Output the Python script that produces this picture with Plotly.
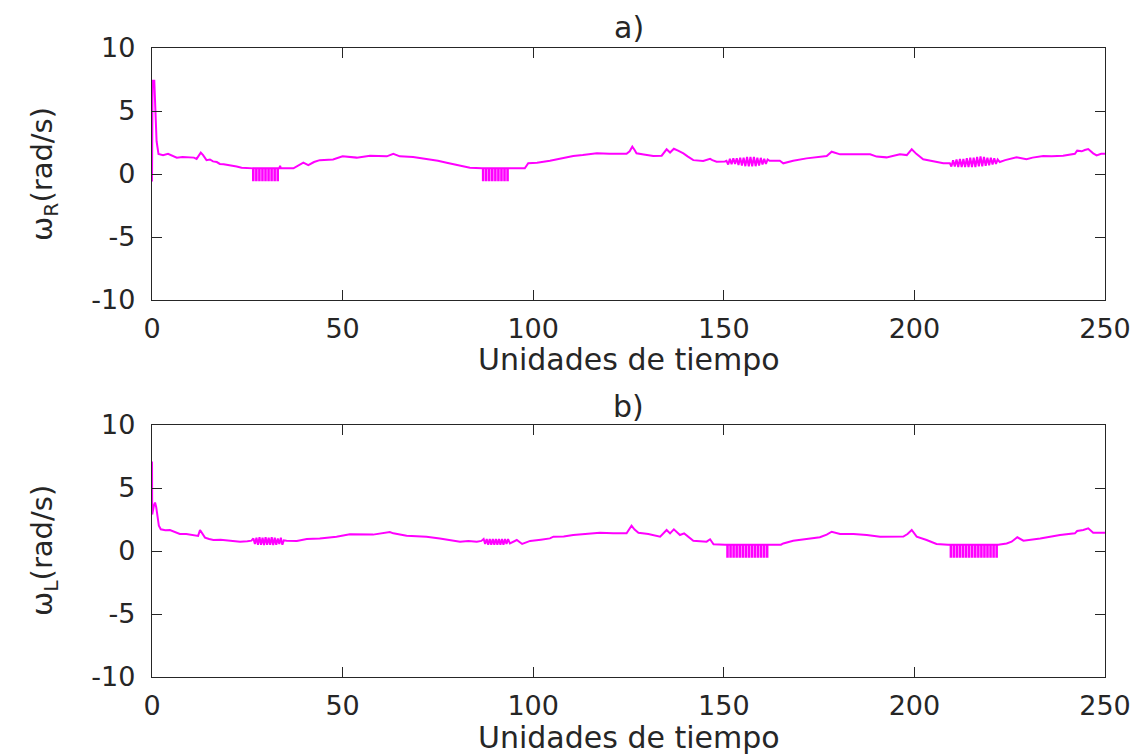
import plotly.graph_objects as go

# ---------------- data ----------------
# omega_R : smooth parts (time, value)
R_pts_a = [(0.0, -0.6), (0.15, 7.4), (0.6, 7.4), (0.9, 4.5), (1.2, 2.6), (1.7, 1.6), (2.9, 1.5),
           (4.2, 1.6), (5.3, 1.45), (6.5, 1.3), (8.0, 1.35), (9.5, 1.3), (11.0, 1.3), (11.7, 1.2),
           (12.4, 1.5), (12.8, 1.7), (13.4, 1.5), (14.3, 1.1), (15.2, 1.15), (16.0, 1.0), (17.0, 0.95),
           (17.8, 0.8), (18.8, 0.78), (19.6, 0.75), (21.0, 0.7), (22.2, 0.6), (23.5, 0.5), (26.1, 0.45)]
R_spikes_1 = [26.5, 27.3, 28.1, 28.9, 29.7, 30.5, 31.3, 32.1, 32.9]
R_pts_b = [(33.4, 0.45), (33.6, 0.65), (33.8, 0.45), (37.1, 0.45), (38.5, 0.7), (39.7, 0.9), (41.0, 0.7),
           (42.5, 0.95), (44.0, 1.1), (47.5, 1.15), (50.0, 1.4), (53.7, 1.3), (57.2, 1.45), (61.6, 1.4),
           (63.3, 1.6), (65.0, 1.4), (68.5, 1.35), (72.0, 1.2), (75.0, 1.05), (77.3, 0.9), (79.0, 0.8),
           (80.8, 0.66), (83.4, 0.5), (86.5, 0.45)]
R_spikes_2 = [86.8, 87.6, 88.4, 89.2, 90.0, 90.8, 91.6, 92.4, 93.2]
R_pts_c = [(93.6, 0.45), (97.8, 0.45), (98.7, 0.85), (101.0, 0.9), (104.4, 1.05), (107.0, 1.2),
           (110.5, 1.43), (113.0, 1.5), (116.7, 1.64), (120.0, 1.6), (124.5, 1.6), (125.3, 1.8),
           (126.0, 2.17), (126.6, 1.9), (127.1, 1.64), (129.0, 1.55), (131.5, 1.43), (133.7, 1.45),
           (134.4, 1.7), (135.0, 1.96), (135.9, 1.7), (136.9, 2.0), (138.0, 1.85), (139.4, 1.64),
           (140.5, 1.4), (142.0, 1.1), (144.6, 1.03), (145.6, 1.1), (146.4, 1.2), (147.0, 1.1),
           (148.1, 0.98), (150.3, 1.0),
           (150.7, 1.05), (151.15, 0.75), (151.6, 1.2), (152.05, 0.78), (152.5, 1.25), (152.95, 0.8),
           (153.4, 1.25), (153.85, 0.72), (154.3, 1.3), (154.75, 0.68), (155.2, 1.3), (155.65, 0.62),
           (156.1, 1.35), (156.55, 0.6), (157.0, 1.35), (157.45, 0.6), (157.9, 1.35), (158.35, 0.62),
           (158.8, 1.3), (159.25, 0.68), (159.7, 1.28), (160.15, 0.75), (160.6, 1.2), (161.05, 0.8),
           (161.5, 1.15), (162.0, 1.05),
           (164.7, 1.05), (165.6, 0.85), (168.2, 1.05), (171.7, 1.24), (174.0, 1.3), (177.0, 1.43),
           (178.3, 1.77), (180.5, 1.56), (184.0, 1.56), (188.4, 1.56), (190.1, 1.38), (192.7, 1.32),
           (196.2, 1.56), (198.0, 1.5), (199.3, 1.96), (200.5, 1.6), (202.3, 1.17), (205.8, 0.98),
           (207.6, 0.85), (209.3, 0.85),
           (209.7, 0.6), (210.15, 1.1), (210.6, 0.6), (211.05, 1.15), (211.5, 0.55), (211.95, 1.2),
           (212.4, 0.55), (212.85, 1.2), (213.3, 0.55), (213.75, 1.25), (214.2, 0.55), (214.65, 1.3),
           (215.1, 0.55), (215.55, 1.3), (216.0, 0.55), (216.45, 1.35), (216.9, 0.6), (217.35, 1.4),
           (217.8, 0.6), (218.25, 1.35), (218.7, 0.65), (219.15, 1.3), (219.6, 0.7), (220.05, 1.3),
           (220.5, 0.75), (220.95, 1.25), (221.4, 0.8), (221.85, 1.15), (222.4, 0.95),
           (223.8, 1.1), (226.8, 1.32), (229.4, 1.17), (231.0, 1.3), (233.8, 1.43), (236.0, 1.4),
           (239.0, 1.45), (242.1, 1.6), (242.7, 1.85), (243.9, 1.8), (244.7, 1.9), (245.6, 1.98),
           (246.9, 1.64), (247.8, 1.48), (249.0, 1.6), (250.0, 1.6)]
R_spike_top = 0.45
R_spike_bottom = -0.5

# omega_L
L_pts_a = [(0.0, 7.1), (0.05, 2.9), (0.5, 3.6), (0.8, 3.84), (1.1, 3.5), (1.4, 2.7), (1.8, 2.0),
           (2.3, 1.72), (3.5, 1.65), (4.7, 1.67), (6.0, 1.5), (7.3, 1.35), (9.0, 1.35), (10.8, 1.27),
           (12.1, 1.2), (12.6, 1.67), (13.2, 1.4), (13.9, 1.06), (15.0, 0.95), (16.1, 0.87), (18.0, 0.9),
           (19.6, 0.85), (21.5, 0.8), (23.1, 0.74), (25.0, 0.78), (26.1, 0.82),
           (26.6, 1.0), (27.0, 0.55), (27.4, 1.05), (27.8, 0.5), (28.2, 1.1), (28.6, 0.5), (29.0, 1.05),
           (29.4, 0.48), (29.8, 1.1), (30.2, 0.5), (30.6, 1.05), (31.0, 0.5), (31.4, 1.1), (31.8, 0.48),
           (32.2, 1.05), (32.6, 0.5), (33.0, 1.0), (33.4, 0.55), (33.8, 1.05), (34.2, 0.5), (34.6, 0.85),
           (35.3, 0.82), (38.0, 0.8), (40.6, 0.95), (44.0, 1.0), (48.4, 1.14), (51.9, 1.32), (55.0, 1.28),
           (58.0, 1.3), (62.4, 1.5), (63.3, 1.4), (66.8, 1.22), (72.0, 1.14), (75.5, 1.0), (78.0, 0.9),
           (80.8, 0.74), (83.0, 0.8), (85.2, 0.74), (86.4, 0.8),
           (87.0, 0.95), (87.4, 0.55), (87.8, 0.95), (88.2, 0.5), (88.6, 0.95), (89.0, 0.5), (89.4, 0.95),
           (89.8, 0.5), (90.2, 0.95), (90.6, 0.5), (91.0, 0.95), (91.4, 0.5), (91.8, 0.95), (92.2, 0.5),
           (92.6, 0.95), (93.0, 0.55), (93.4, 0.95), (93.9, 0.6),
           (95.7, 0.87), (97.1, 0.56), (99.2, 0.8), (102.0, 0.9), (104.4, 1.0), (105.3, 1.14),
           (108.0, 1.15), (110.5, 1.27), (114.0, 1.35), (117.5, 1.45), (121.0, 1.4), (124.5, 1.4),
           (125.8, 2.0), (126.6, 1.7), (127.6, 1.45), (130.2, 1.35), (133.3, 1.14), (134.2, 1.4),
           (135.0, 1.67), (135.9, 1.4), (136.9, 1.72), (138.5, 1.27), (139.6, 1.4), (142.0, 0.82),
           (145.5, 0.74), (146.4, 0.93), (147.3, 0.53), (150.3, 0.5)]
L_spikes_1 = [150.9, 151.7, 152.5, 153.3, 154.1, 154.9, 155.7, 156.5, 157.3, 158.1, 158.9, 159.7,
              160.5, 161.3]
L_pts_b = [(161.7, 0.5), (165.0, 0.5), (165.6, 0.6), (168.2, 0.82), (171.7, 0.95), (175.2, 1.09),
           (177.0, 1.3), (178.3, 1.53), (180.5, 1.35), (184.0, 1.35), (187.5, 1.27), (191.0, 1.14),
           (197.1, 1.15), (198.2, 1.35), (199.3, 1.67), (200.6, 1.14), (203.2, 0.87), (205.8, 0.56),
           (208.8, 0.5)]
L_spikes_2 = [209.5, 210.3, 211.1, 211.9, 212.7, 213.5, 214.3, 215.1, 215.9, 216.7, 217.5, 218.3,
              219.1, 219.9, 220.7, 221.5]
L_pts_c = [(222.0, 0.5), (224.2, 0.6), (225.5, 0.74), (227.0, 1.09), (228.6, 0.82), (233.0, 1.0),
           (238.2, 1.27), (242.1, 1.4), (242.7, 1.59), (244.3, 1.67), (245.6, 1.8), (246.9, 1.45),
           (249.6, 1.45), (250.0, 1.45)]
L_spike_top = 0.5
L_spike_bottom = -0.45

x_ticks = [0, 50, 100, 150, 200, 250]
y_ticks = [-10, -5, 0, 5, 10]
y_ticklabels = ["-10", "-5", "0", "5", "10"]


def spikes(times, top, bottom, w=0.15):
    pts = []
    for s in times:
        pts += [(s, top), (s, bottom), (s + w, bottom), (s + w, top)]
    return pts


R_all = R_pts_a + spikes(R_spikes_1, R_spike_top, R_spike_bottom) + R_pts_b + \
    spikes(R_spikes_2, R_spike_top, R_spike_bottom) + R_pts_c
L_all = L_pts_a + spikes(L_spikes_1, L_spike_top, L_spike_bottom) + L_pts_b + \
    spikes(L_spikes_2, L_spike_top, L_spike_bottom) + L_pts_c

W, H = 1142, 756
FONT = "DejaVu Sans"
DARK = "#262626"
MAG = "#FF00FF"

fig = go.Figure()
fig.add_trace(go.Scatter(x=[p[0] for p in R_all], y=[p[1] for p in R_all], mode="lines",
                         line=dict(color=MAG, width=2), xaxis="x", yaxis="y", showlegend=False))
fig.add_trace(go.Scatter(x=[p[0] for p in L_all], y=[p[1] for p in L_all], mode="lines",
                         line=dict(color=MAG, width=2), xaxis="x2", yaxis="y2", showlegend=False))

xl, xr = 152, 1105
top_t, top_b = 48, 300
bot_t, bot_b = 425, 677


def px2py(p):
    return 1 - p / H


common = dict(ticks="inside", ticklen=10, tickwidth=1.3, tickcolor=DARK, showline=True,
              linecolor=DARK, linewidth=1.3, mirror="ticks", showgrid=False, zeroline=False,
              automargin=False, tickfont=dict(family=FONT, size=27, color=DARK))

fig.update_layout(
    width=W, height=H, margin=dict(l=0, r=0, t=0, b=0),
    paper_bgcolor="white", plot_bgcolor="white",
    xaxis=dict(domain=[xl / W, xr / W], range=[0, 250], tickvals=x_ticks, anchor="y",
               ticklabelstandoff=4, **common),
    yaxis=dict(domain=[px2py(top_b), px2py(top_t)], range=[-10, 10], tickvals=y_ticks,
               ticktext=y_ticklabels, anchor="x", ticklabelstandoff=10, **common),
    xaxis2=dict(domain=[xl / W, xr / W], range=[0, 250], tickvals=x_ticks, anchor="y2",
                ticklabelstandoff=4, **common),
    yaxis2=dict(domain=[px2py(bot_b), px2py(bot_t)], range=[-10, 10], tickvals=y_ticks,
                ticktext=y_ticklabels, anchor="x2", ticklabelstandoff=10, **common),
)

tf = dict(family=FONT, size=30, color=DARK)
ann = [
    dict(text="a)", x=(xl + xr) / 2 / W, y=px2py(28)),
    dict(text="b)", x=(xl + xr) / 2 / W, y=px2py(406)),
    dict(text="Unidades de tiempo", x=(xl + xr) / 2 / W, y=px2py(359)),
    dict(text="Unidades de tiempo", x=(xl + xr) / 2 / W, y=px2py(737)),
]
for a in ann:
    fig.add_annotation(xref="paper", yref="paper", showarrow=False, xanchor="center",
                       yanchor="middle", font=tf, **a)
yf = dict(family=FONT, size=29, color=DARK)
for txt, yc in [("ω<sub>R</sub>(rad/s)", (top_t + top_b) / 2), ("ω<sub>L</sub>(rad/s)", (bot_t + bot_b) / 2)]:
    fig.add_annotation(xref="paper", yref="paper", showarrow=False, text=txt, textangle=-90,
                       x=44 / W, y=px2py(yc), xanchor="center", yanchor="middle", font=yf)

fig.write_html("out.html")
